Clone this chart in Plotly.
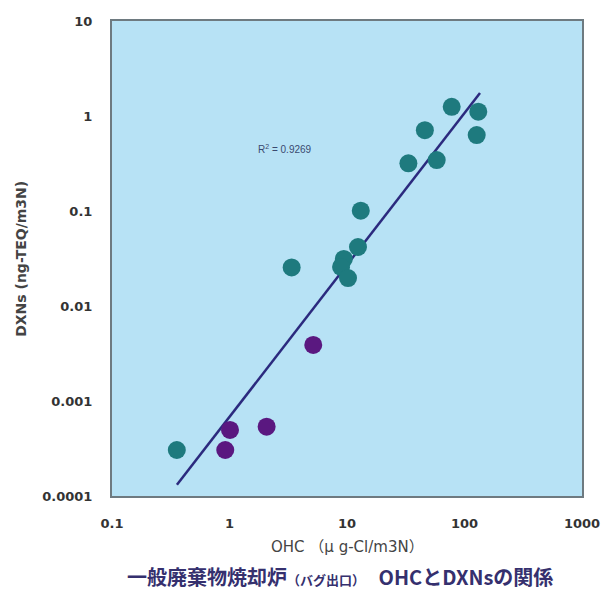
import plotly.graph_objects as go

# Data
teal_x = [0.356, 3.38, 13.1, 12.4, 9.4, 8.9, 10.2, 33.3, 46, 58, 77.8, 131, 127]
teal_y = [0.000305, 0.0255, 0.1007, 0.0418, 0.0313, 0.0258, 0.0197, 0.318, 0.71, 0.344, 1.25, 1.11, 0.63]

purple_x = [1.01, 0.92, 2.07, 5.16]
purple_y = [0.000496, 0.000305, 0.000537, 0.00389]

trend_x = [0.357, 135.5]
trend_y = [0.000131, 1.75]

x_tickvals = [0.1, 1, 10, 100, 1000]
x_ticktext = ["0.1", "1", "10", "100", "1000"]
y_tickvals = [0.0001, 0.001, 0.01, 0.1, 1, 10]
y_ticktext = ["0.0001", "0.001", "0.01", "0.1", "1", "10"]

r2_text = "R<sup>2</sup> = 0.9269"
x_title = "OHC （μ g-Cl/m3N）"
y_title = "DXNs (ng-TEQ/m3N)"
caption = "一般廃棄物焼却炉<span style='font-size:13px'>（バグ出口）</span>　OHCとDXNsの関係"

fig = go.Figure()
fig.add_trace(go.Scatter(x=trend_x, y=trend_y, mode="lines",
                         line=dict(color="#2b2a7e", width=2.5),
                         showlegend=False, hoverinfo="skip"))
fig.add_trace(go.Scatter(x=teal_x, y=teal_y, mode="markers",
                         marker=dict(color="#1e7a7e", size=18, line=dict(width=0)),
                         showlegend=False))
fig.add_trace(go.Scatter(x=purple_x, y=purple_y, mode="markers",
                         marker=dict(color="#5a1880", size=18, line=dict(width=0)),
                         showlegend=False))

tick_font = dict(family="DejaVu Sans, sans-serif", size=13, color="#333333", weight="bold")

fig.update_xaxes(type="log", range=[-1, 3], tickvals=x_tickvals, ticktext=x_ticktext,
                 showgrid=False, zeroline=False, showline=True, linecolor="#6e7a80",
                 linewidth=2, mirror=True, ticks="", tickfont=tick_font,
                 ticklabelstandoff=14, automargin=False, ticklabeloverflow="allow")
fig.update_yaxes(type="log", range=[-4, 1], tickvals=y_tickvals, ticktext=y_ticktext,
                 showgrid=False, zeroline=False, showline=True, linecolor="#6e7a80",
                 linewidth=2, mirror=True, ticks="", tickfont=tick_font,
                 ticklabelstandoff=15, automargin=False, ticklabeloverflow="allow")

fig.update_layout(
    width=602, height=597,
    margin=dict(l=112, r=20, t=21, b=101),
    paper_bgcolor="white",
    plot_bgcolor="#b7e2f5",
    annotations=[
        dict(text=r2_text, xref="paper", yref="paper", x=0.368, y=0.747,
             showarrow=False, font=dict(family="Liberation Sans, Arial", size=10, color="#3a4a70")),
        dict(text=x_title, xref="paper", yref="paper", x=0.5, y=-0.107,
             showarrow=False, yanchor="middle",
             font=dict(family="DejaVu Sans, Noto Sans CJK JP, sans-serif", size=15, color="#444444")),
        dict(text=caption, xref="paper", yref="paper", x=0.485, y=-0.17,
             showarrow=False, yanchor="middle",
             font=dict(family="Noto Sans CJK JP, sans-serif", size=20, color="#35306e", weight="bold")),
        dict(text=y_title, xref="paper", yref="paper", x=-0.195, y=0.5,
             showarrow=False, textangle=-90, xanchor="center",
             font=dict(family="DejaVu Sans, sans-serif", size=14, color="#444444", weight="bold")),
    ],
)

# Remove the page's default body margin so the 602x597 figure fills the window exactly.
fig.write_html("out.html", config={"displayModeBar": False},
               post_script="document.body.style.margin='0';")
